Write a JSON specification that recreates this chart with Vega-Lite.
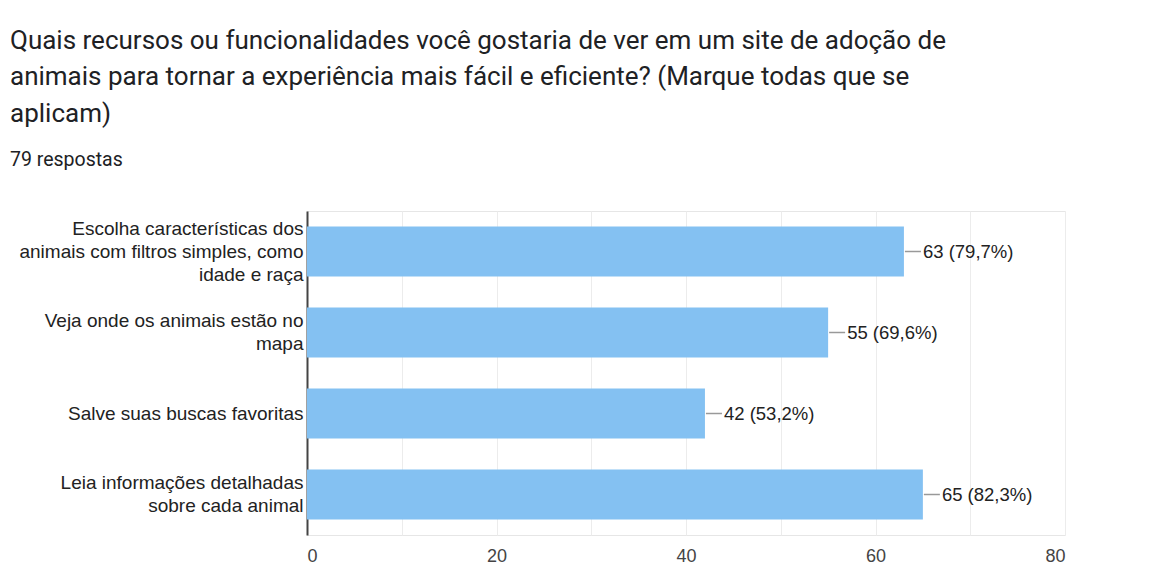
{
  "$schema": "https://vega.github.io/schema/vega-lite/v6.json",
  "autosize": "none",
  "padding": {"left": 307, "top": 211, "right": 86, "bottom": 50},
  "width": 758,
  "height": 324,
  "background": "white",
  "title": {
    "text": ["\u00a0Quais recursos ou funcionalidades você gostaria de ver em um site de adoção de", "animais para tornar a experiência mais fácil e eficiente? (Marque todas que se", "aplicam)"],
    "subtitle": "79 respostas",
    "anchor": "start",
    "frame": "group",
    "orient": "top",
    "dx": -297,
    "offset": 42,
    "font": "Roboto",
    "fontSize": 26,
    "fontWeight": "normal",
    "color": "#202124",
    "lineHeight": 36.5,
    "subtitleFont": "Roboto",
    "subtitleFontSize": 19.5,
    "subtitleColor": "#202124",
    "subtitlePadding": 24
  },
  "data": {
    "values": [
      {"item": "Escolha características dos|animais com filtros simples, como|idade e raça", "count": 63, "text": "63 (79,7%)"},
      {"item": "Veja onde os animais estão no|mapa", "count": 55, "text": "55 (69,6%)"},
      {"item": "Salve suas buscas favoritas", "count": 42, "text": "42 (53,2%)"},
      {"item": "Leia informações detalhadas|sobre cada animal", "count": 65, "text": "65 (82,3%)"}
    ]
  },
  "encoding": {
    "y": {
      "field": "item",
      "type": "nominal",
      "sort": null,
      "title": null,
      "scale": {"paddingInner": 0.38, "paddingOuter": 0.19},
      "axis": {
        "labelExpr": "split(datum.label, '|')",
        "labelFont": "Liberation Sans",
        "labelFontSize": 19,
        "labelColor": "#222222",
        "labelLineHeight": 23,
        "labelLimit": 400,
        "labelPadding": 4,
        "labelOffset": {
          "condition": [
            {"test": "length(split(datum.value, '|')) == 3", "value": -23},
            {"test": "length(split(datum.value, '|')) == 2", "value": -11.5}
          ],
          "value": 0
        },
        "ticks": false,
        "domainColor": "#444444",
        "domainWidth": 2,
        "grid": false
      }
    }
  },
  "layer": [
    {
      "mark": {"type": "bar", "color": "#84c1f2"},
      "encoding": {
        "x": {
          "field": "count",
          "type": "quantitative",
          "title": null,
          "scale": {"domain": [0, 80], "nice": false},
          "axis": {
            "values": [0, 10, 20, 30, 40, 50, 60, 70, 80],
            "labelExpr": "datum.value % 20 == 0 ? datum.label : ''",
            "labelFont": "Liberation Sans",
            "labelFontSize": 18,
            "labelColor": "#444444",
            "labelPadding": 12,
            "ticks": false,
            "domain": false,
            "grid": true,
            "gridColor": "#ececec",
            "gridWidth": 1
          }
        }
      }
    },
    {
      "mark": {"type": "rule", "color": "#999999", "strokeWidth": 1.5, "xOffset": 1, "x2Offset": 17},
      "encoding": {
        "x": {"field": "count", "type": "quantitative"},
        "x2": {"field": "count"}
      }
    },
    {
      "mark": {"type": "text", "align": "left", "baseline": "middle", "dx": 19, "font": "Liberation Sans", "fontSize": 18.5, "color": "#222222"},
      "encoding": {
        "x": {"field": "count", "type": "quantitative"},
        "text": {"field": "text"}
      }
    }
  ],
  "config": {
    "view": {"stroke": "#e6e6e6", "strokeWidth": 1}
  }
}
